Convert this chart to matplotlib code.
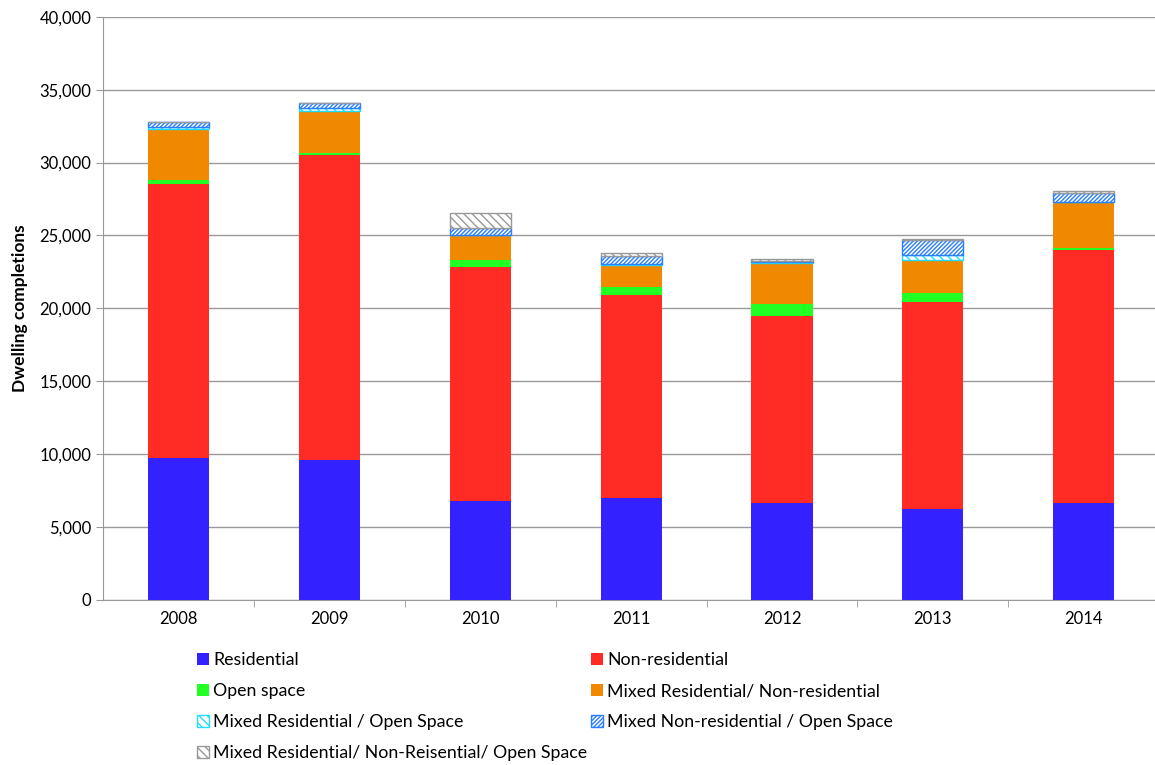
import matplotlib.pyplot as plt
import numpy as np

years = ['2008', '2009', '2010', '2011', '2012', '2013', '2014']
residential = [9700, 9600, 6800, 6950, 6650, 6250, 6650]
non_residential = [18850, 20900, 16000, 13950, 12850, 14180, 17360]
open_space = [280, 180, 480, 580, 820, 620, 160]
mixed_res_nonres = [3500, 2880, 1720, 1520, 2790, 2290, 3110]
mixed_res_open = [120, 200, 60, 60, 60, 340, 40]
mixed_nonres_open = [340, 340, 420, 500, 100, 1030, 620]
mixed_all = [0, 0, 1080, 200, 130, 50, 90]

plt.rcParams['font.family'] = ['Lato', 'DejaVu Sans']
plt.rcParams['hatch.linewidth'] = 1.0

fig = plt.figure(figsize=(11.55, 7.65), dpi=100)
ax = fig.add_axes([0.0893, 0.216, 0.9143, 0.762])

x = np.arange(len(years))
w = 0.405

series = [
    ('Residential', residential, dict(color='#3322FF')),
    ('Non-residential', non_residential, dict(color='#FF2B24')),
    ('Open space', open_space, dict(color='#22FF22')),
    ('Mixed Residential/ Non-residential', mixed_res_nonres, dict(color='#F08800')),
    ('Mixed Residential / Open Space', mixed_res_open,
     dict(facecolor='white', edgecolor='#22DDFF', hatch='\\\\\\\\')),
    ('Mixed Non-residential / Open Space', mixed_nonres_open,
     dict(facecolor='white', edgecolor='#2A7FFF', hatch='////////')),
    ('Mixed Residential/ Non-Reisential/ Open Space', mixed_all,
     dict(facecolor='white', edgecolor='#999999', hatch='\\\\\\\\')),
]

bottom = np.zeros(len(years))
handles = []
for name, vals, style in series:
    vals = np.array(vals, dtype=float)
    b = ax.bar(x, vals, w, bottom=bottom, label=name, linewidth=1.0, zorder=3, **style)
    handles.append(b)
    bottom += vals

ax.set_xlim(-0.5, len(years) - 0.5)
ax.set_ylim(0, 40000)
ax.set_yticks(np.arange(0, 40001, 5000))
ax.set_yticklabels([f'{v:,}' for v in range(0, 40001, 5000)], fontsize=12)
ax.set_xticks(x)
ax.set_xticklabels(years, fontsize=12)
ax.set_xticks(np.arange(0.5, len(years) - 0.5, 1), minor=True)
ax.tick_params(axis='x', which='major', length=0, pad=8)
ax.tick_params(axis='x', which='minor', length=5, color='#999999')
ax.tick_params(axis='y', length=5, color='#999999')

ax.grid(axis='y', color='#999999', linewidth=1, zorder=0)
for s in ['top', 'right']:
    ax.spines[s].set_visible(False)
for s in ['left', 'bottom']:
    ax.spines[s].set_color('#999999')

ax.set_ylabel('Dwelling completions', fontsize=12.5, fontweight='bold', labelpad=8)

order = [0, 2, 4, 6, 1, 3, 5]
fig.legend([handles[i] for i in order], [series[i][0] for i in order],
           ncol=2, loc='upper left', bbox_to_anchor=(0.157, 0.168),
           frameon=False, fontsize=12.8, handlelength=0.65, handleheight=0.65,
           handletextpad=0.25, columnspacing=0.2, labelspacing=0.84)

fig.savefig('out.png', dpi=100)
